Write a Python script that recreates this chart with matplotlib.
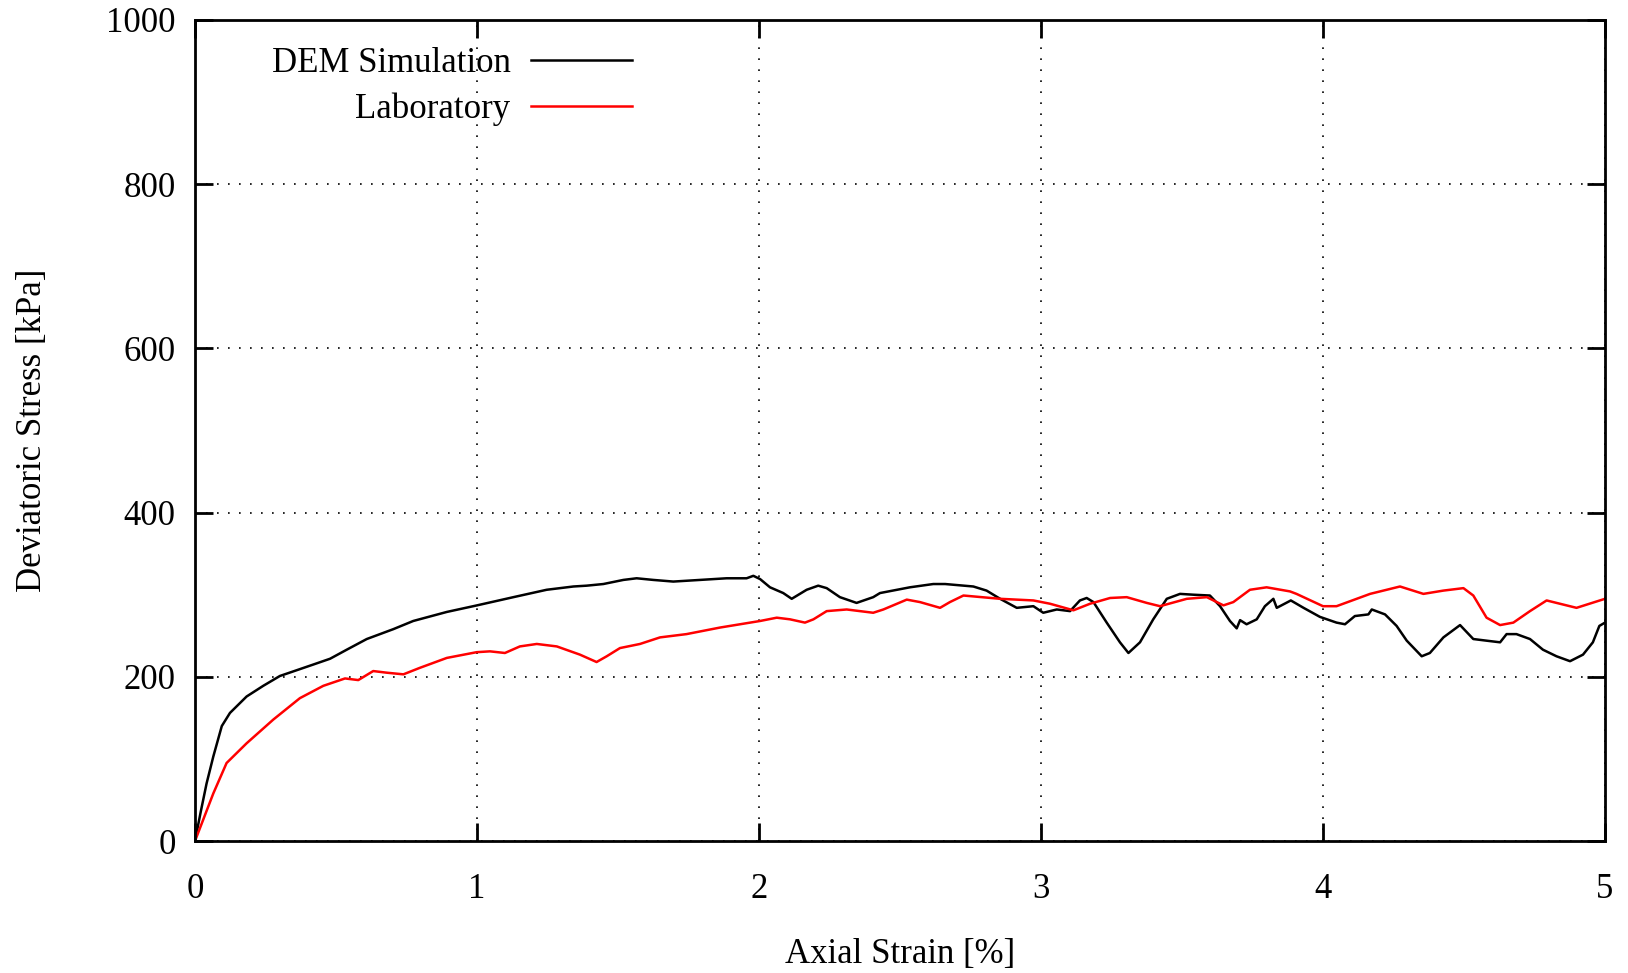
import numpy as np
import matplotlib
matplotlib.use('Agg')
import matplotlib.pyplot as plt

# DEM simulation curve (axial strain %, deviatoric stress kPa)
dem_strain = [0, 0.02, 0.041, 0.065, 0.095, 0.124, 0.183, 0.242, 0.301, 0.42, 0.479,
              0.538, 0.609, 0.703, 0.774, 0.893, 1.0, 1.129, 1.247, 1.342, 1.389,
              1.448, 1.519, 1.566, 1.625, 1.696, 1.791, 1.885, 1.956, 1.98, 2.004,
              2.039, 2.086, 2.116, 2.169, 2.21, 2.24, 2.287, 2.346, 2.405, 2.429,
              2.535, 2.618, 2.66, 2.76, 2.807, 2.855, 2.914, 2.973, 3.008, 3.056,
              3.103, 3.138, 3.162, 3.186, 3.233, 3.28, 3.31, 3.351, 3.398, 3.446,
              3.493, 3.54, 3.599, 3.635, 3.67, 3.694, 3.706, 3.729, 3.765, 3.794,
              3.824, 3.836, 3.886, 3.931, 3.989, 4.048, 4.078, 4.113, 4.161, 4.173,
              4.22, 4.261, 4.297, 4.35, 4.379, 4.427, 4.486, 4.533, 4.58, 4.628,
              4.651, 4.686, 4.734, 4.78, 4.828, 4.876, 4.922, 4.957, 4.98, 5.0]
dem_stress = [0, 35, 70, 103, 140, 156, 176, 189, 201, 215, 222,
              233, 246, 258, 268, 279, 287, 297, 306, 310, 311,
              313, 318, 320, 318, 316, 318, 320, 320, 323, 319,
              309, 302, 295, 306, 311, 308, 297, 290, 297, 302,
              309, 313, 313, 310, 305, 295, 284, 286, 278, 282,
              280, 293, 296, 291, 266, 242, 229, 242, 270, 295,
              301, 300, 299, 286, 268, 259, 269, 264, 270, 286,
              295, 284, 293, 284, 273, 266, 264, 274, 276, 282,
              276, 262, 244, 225, 229, 248, 263, 246, 244, 242,
              252, 252, 246, 233, 225, 219, 227, 242, 262, 266]

# Laboratory curve
lab_strain = [0, 0.065, 0.112, 0.183, 0.278, 0.372, 0.455, 0.532, 0.579, 0.632,
              0.68, 0.739, 0.798, 0.893, 0.999, 1.046, 1.099, 1.152, 1.212, 1.283,
              1.365, 1.424, 1.46, 1.507, 1.578, 1.649, 1.743, 1.862, 2.004, 2.063,
              2.11, 2.163, 2.193, 2.24, 2.311, 2.405, 2.441, 2.524, 2.571, 2.642,
              2.677, 2.725, 2.855, 2.973, 3.032, 3.115, 3.174, 3.245, 3.304, 3.375,
              3.422, 3.517, 3.588, 3.647, 3.682, 3.741, 3.8, 3.883, 3.906, 4.0,
              4.048, 4.167, 4.273, 4.356, 4.427, 4.498, 4.533, 4.58, 4.628, 4.675,
              4.734, 4.793, 4.84, 4.899, 5.0]
lab_stress = [0, 58, 95, 119, 148, 174, 189, 198, 196, 207,
              205, 203, 211, 223, 230, 231, 229, 237, 240, 237,
              227, 218, 225, 235, 240, 248, 252, 260, 268, 272,
              270, 266, 270, 280, 282, 278, 282, 294, 291, 284,
              291, 299, 295, 293, 289, 281, 289, 296, 297, 290,
              286, 295, 297, 287, 291, 306, 309, 304, 301, 286,
              286, 301, 310, 301, 305, 308, 299, 272, 263, 266,
              280, 293, 289, 284, 295]

x_ticks = [0, 1, 2, 3, 4, 5]
y_ticks = [0, 200, 400, 600, 800, 1000]

plt.rcParams['font.family'] = ['Liberation Serif', 'DejaVu Serif']
fs = 25

fig = plt.figure(figsize=(16.28, 9.73), dpi=100)
ax = fig.add_axes([195/1628, 1 - 841/973, 1410/1628, 821/973])

ax.plot(dem_strain, dem_stress, color='black', lw=1.8, label='DEM Simulation')
ax.plot(lab_strain, lab_stress, color='#ff0000', lw=1.8, label='Laboratory')

ax.set_xlim(0, 5)
ax.set_ylim(0, 1000)
ax.set_xticks(x_ticks)
ax.set_yticks(y_ticks)
ax.grid(True, color='black', lw=1.2, ls=(0, (1, 5.6)))
ax.tick_params(direction='in', length=13, width=2, top=True, right=True,
               labelsize=fs)
ax.tick_params(axis='x', pad=23)
ax.tick_params(axis='y', pad=14)
for s in ax.spines.values():
    s.set_linewidth(2)

ax.set_xlabel('Axial Strain [%]', fontsize=fs, labelpad=23)
ax.set_ylabel('Deviatoric Stress [kPa]', fontsize=fs, labelpad=41)

ax.legend(loc='upper right', bbox_to_anchor=(0.31, 0.967), frameon=False,
          markerfirst=False, fontsize=fs, handlelength=2.9, handletextpad=0.6,
          labelspacing=0.36, borderpad=0, borderaxespad=0)

fig.savefig('out.png', dpi=100)
